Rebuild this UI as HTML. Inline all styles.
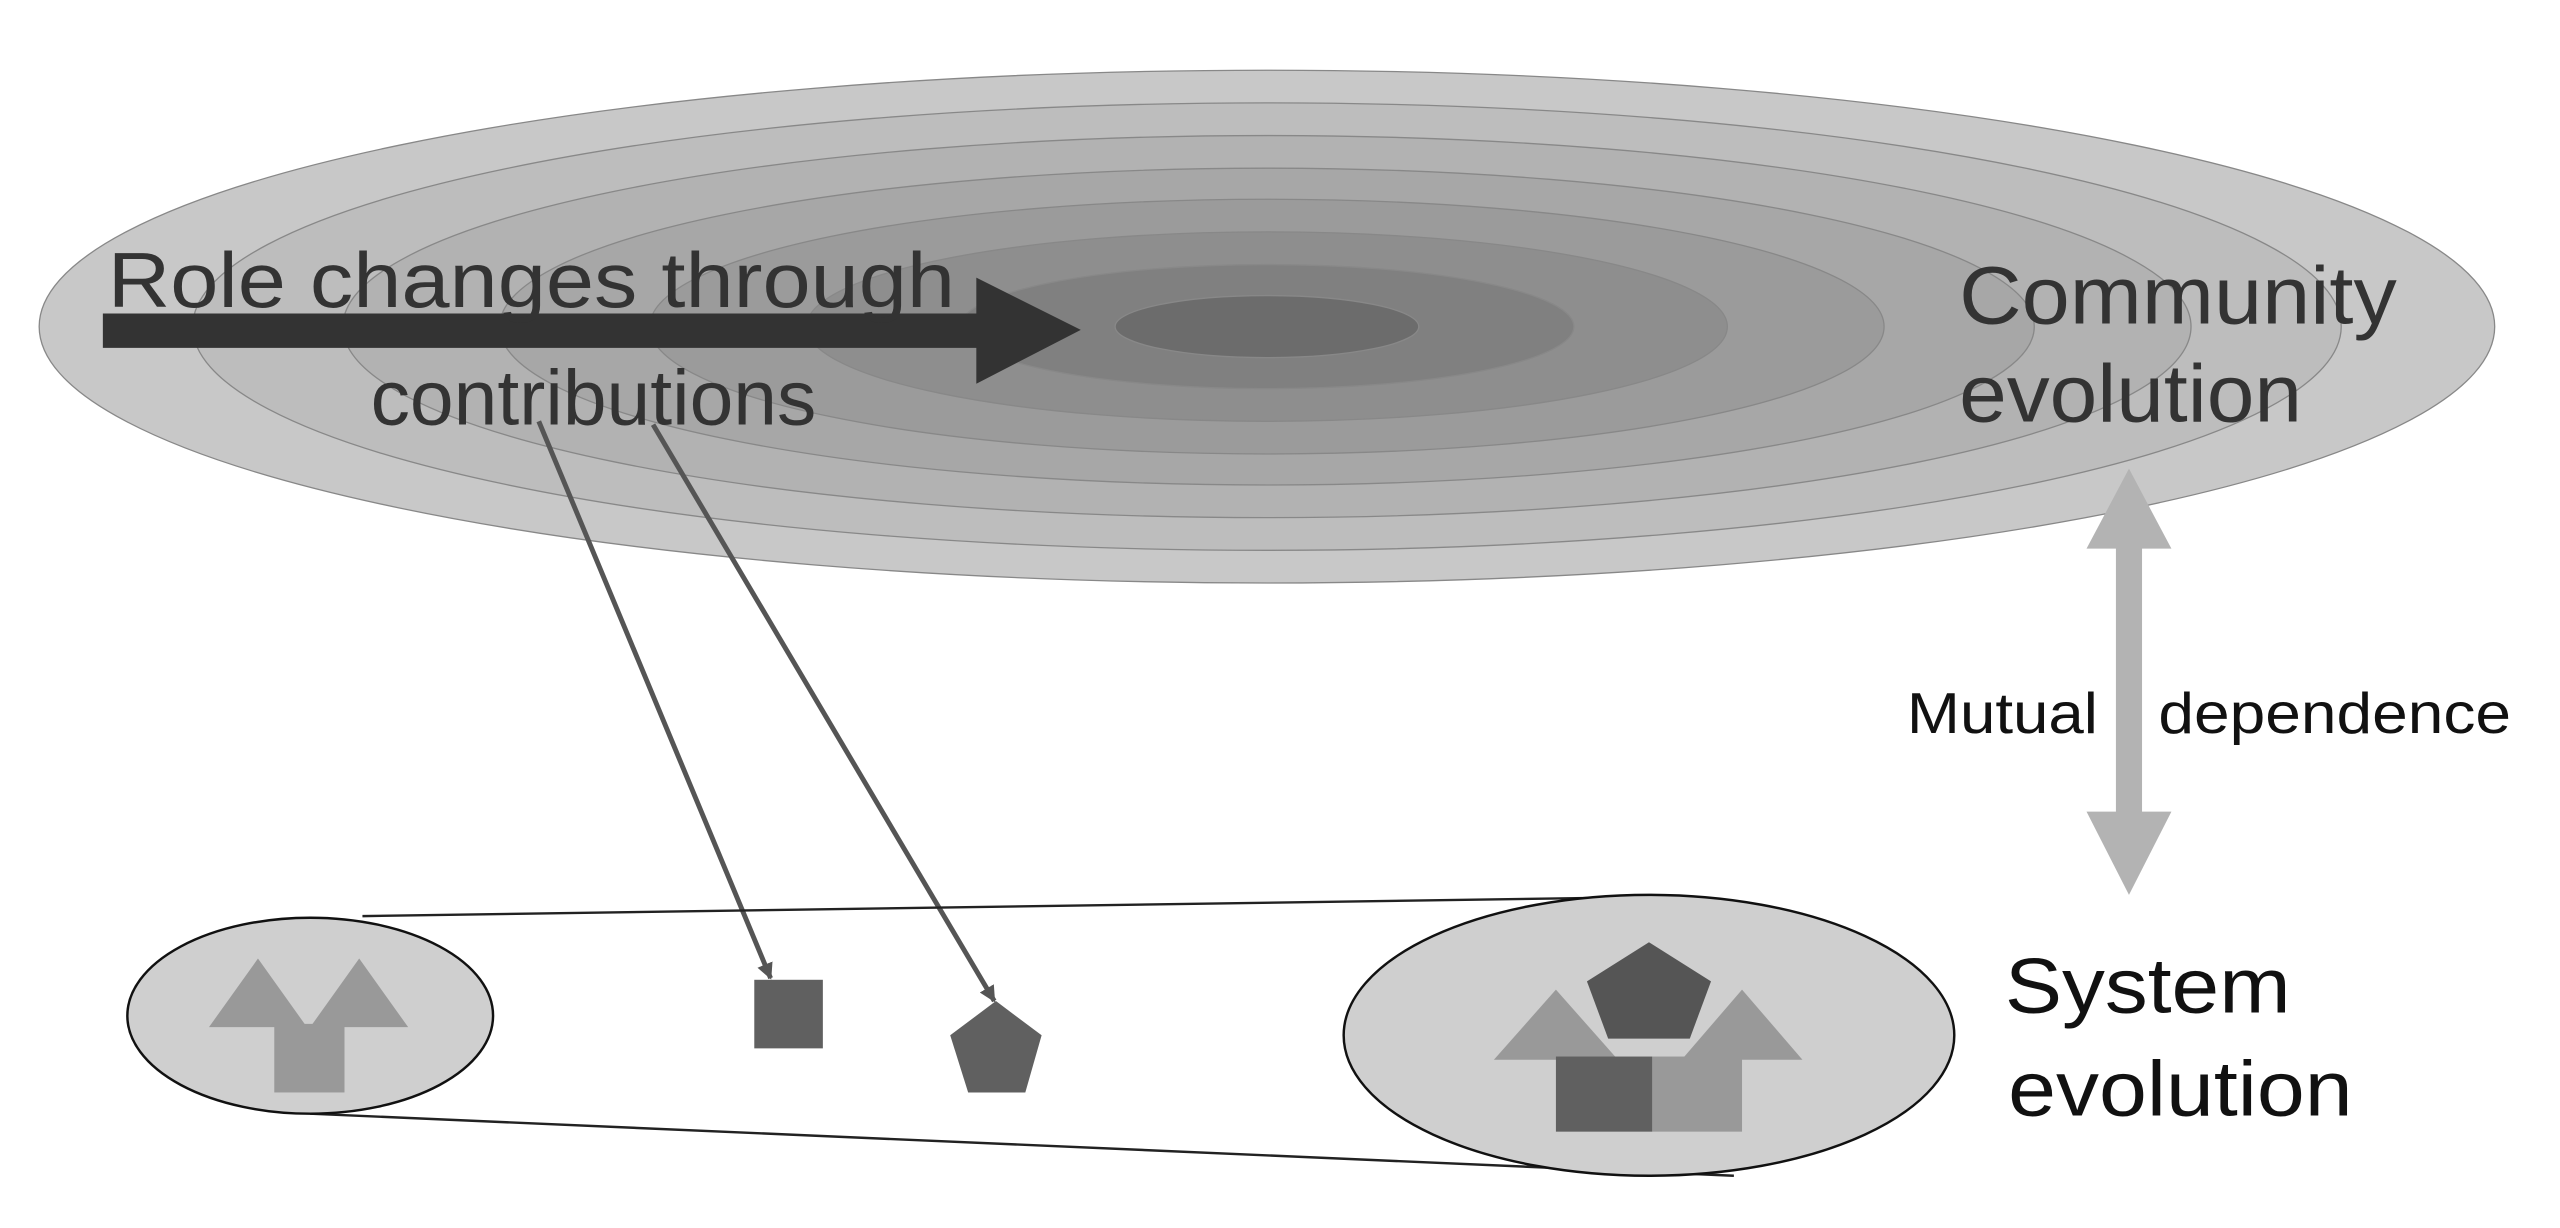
<!DOCTYPE html>
<html><head><meta charset="utf-8"><style>
html,body{margin:0;padding:0;background:#fff;}
svg{display:block;}
text{font-family:"Liberation Sans",Arial,sans-serif;}
</style></head><body>
<svg width="2560" height="1228" viewBox="0 0 1568 752" preserveAspectRatio="none">
<defs>
<marker id="ah" markerWidth="10" markerHeight="10" refX="9" refY="5" orient="auto" markerUnits="userSpaceOnUse">
<path d="M0,0 L10,5 L0,10 Z" fill="#555"/></marker>
</defs>
<g stroke="#888" stroke-width="0.8">
<ellipse cx="776" cy="200" rx="752" ry="157" fill="#c8c8c8"/>
<ellipse cx="776" cy="200" rx="658" ry="137" fill="#bdbdbd"/>
<ellipse cx="776" cy="200" rx="566" ry="117" fill="#b2b2b2"/>
<ellipse cx="776" cy="200" rx="470" ry="97" fill="#a7a7a7"/>
<ellipse cx="776" cy="200" rx="378" ry="78" fill="#9b9b9b"/>
<ellipse cx="776" cy="200" rx="282" ry="58" fill="#8e8e8e"/>
<ellipse cx="776" cy="200" rx="188" ry="38" fill="#808080"/>
<ellipse cx="776" cy="200" rx="93" ry="19" fill="#6c6c6c"/>
</g>
<path d="M63,192 L598,192 L598,170 L662,202 L598,235 L598,213 L63,213 Z" fill="#333"/>
<text x="66" y="188" font-size="48" fill="#333" textLength="519" lengthAdjust="spacingAndGlyphs">Role changes through</text>
<text x="227" y="260" font-size="48" fill="#333" textLength="273" lengthAdjust="spacingAndGlyphs">contributions</text>
<text x="1200" y="198" font-size="50" fill="#333" textLength="268" lengthAdjust="spacingAndGlyphs">Community</text>
<text x="1200" y="258" font-size="50" fill="#333" textLength="210" lengthAdjust="spacingAndGlyphs">evolution</text>
<line x1="330" y1="258" x2="472" y2="599" stroke="#555" stroke-width="3" marker-end="url(#ah)"/>
<line x1="400" y1="260" x2="609" y2="613" stroke="#555" stroke-width="3" marker-end="url(#ah)"/>
<path d="M1304,287 L1330,336 L1312,336 L1312,497 L1330,497 L1304,548 L1278,497 L1296,497 L1296,336 L1278,336 Z" fill="#b3b3b3"/>
<text x="1168" y="449" font-size="35" fill="#111" textLength="117" lengthAdjust="spacingAndGlyphs">Mutual</text>
<text x="1322" y="449" font-size="35" fill="#111" textLength="216" lengthAdjust="spacingAndGlyphs">dependence</text>
<line x1="222" y1="561" x2="1035" y2="549" stroke="#222" stroke-width="1.5"/>
<line x1="190" y1="682" x2="1062" y2="720" stroke="#222" stroke-width="1.5"/>
<ellipse cx="190" cy="622" rx="112" ry="60" fill="#cfcfcf" stroke="#111" stroke-width="1.5"/>
<g fill="#999">
<path d="M128,629 L158,587 L188,629 Z"/>
<path d="M190,629 L220,587 L250,629 Z"/>
<rect x="168" y="627" width="43" height="42"/>
</g>
<rect x="462" y="600" width="42" height="42" fill="#606060"/>
<path d="M610,613 L638,634 L628,669 L593,669 L582,634 Z" fill="#606060"/>
<ellipse cx="1010" cy="634" rx="187" ry="86" fill="#cfcfcf" stroke="#111" stroke-width="1.5"/>
<g>
<path d="M915,649 L953,606 L991,649 Z" fill="#999"/>
<path d="M1030,649 L1067,606 L1104,649 Z" fill="#999"/>
<rect x="1012" y="647" width="55" height="46" fill="#999"/>
<rect x="953" y="647" width="59" height="46" fill="#606060"/>
<path d="M1010,577 L1048,601 L1035,636 L985,636 L972,601 Z" fill="#555"/>
</g>
<text x="1228" y="620" font-size="48" fill="#111" textLength="175" lengthAdjust="spacingAndGlyphs">System</text>
<text x="1230" y="683" font-size="48" fill="#111" textLength="211" lengthAdjust="spacingAndGlyphs">evolution</text>
</svg>
</body></html>
